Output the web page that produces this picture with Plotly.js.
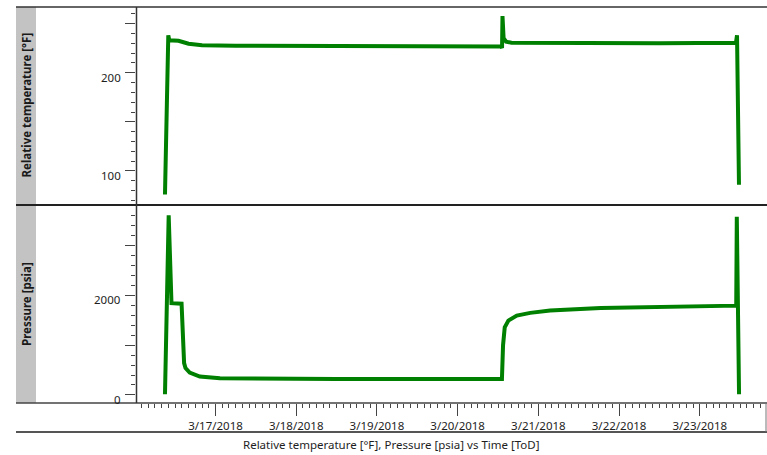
<!DOCTYPE html>
<html>
<head>
<meta charset="utf-8">
<script src="https://cdn.plot.ly/plotly-3.0.1.min.js"></script>
<style>
  html, body { margin: 0; padding: 0; background: #ffffff; }
  #chart { width: 767px; height: 455px; }
</style>
</head>
<body>
<div id="chart"></div>
<script>
// Relative temperature log (°F)
const tempTime = [
  '2018-03-16 08:59', '2018-03-16 09:58', '2018-03-16 10:15', '2018-03-16 13:00',
  '2018-03-16 16:00', '2018-03-16 20:00', '2018-03-17 06:00', '2018-03-18 12:00',
  '2018-03-19 12:00', '2018-03-20 13:00', '2018-03-20 13:12', '2018-03-20 13:20',
  '2018-03-20 13:40', '2018-03-20 14:25', '2018-03-20 16:00', '2018-03-21 12:00',
  '2018-03-22 12:00', '2018-03-23 10:45', '2018-03-23 11:04', '2018-03-23 11:39'
];
const tempValue = [
  76, 238, 233, 232.5,
  229.5, 228, 227.5, 227,
  226.5, 226.5, 225, 257.5,
  235, 231.5, 230.5, 230,
  230, 230.5, 238, 86
];

// Pressure log (psia)
const presTime = [
  '2018-03-16 08:59', '2018-03-16 10:05', '2018-03-16 10:55', '2018-03-16 13:55',
  '2018-03-16 14:40', '2018-03-16 15:05', '2018-03-16 16:20', '2018-03-16 19:20',
  '2018-03-17 01:20', '2018-03-17 12:00', '2018-03-18 12:00', '2018-03-19 12:00',
  '2018-03-20 13:10', '2018-03-20 13:30', '2018-03-20 14:00', '2018-03-20 15:05',
  '2018-03-20 17:35', '2018-03-20 21:35', '2018-03-21 03:30', '2018-03-21 18:30',
  '2018-03-23 00:00', '2018-03-23 10:50', '2018-03-23 11:00', '2018-03-23 11:40'
];
const presValue = [
  15, 3610, 1845, 1835,
  640, 540, 450, 370,
  335, 325, 322, 320,
  318, 1000, 1360, 1495,
  1596, 1650, 1697, 1747,
  1778, 1795, 3582, 13
];

// Axis ticks and their labels
const tempTickVals = [100, 150, 200, 250];
const tempLabelVals = [100, 200];
const tempLabelText = ['100', '200'];
const presTickVals = [0, 1000, 2000, 3000];
const presLabelVals = [0, 2000];
const presLabelText = ['0', '2000'];

const lineGreen = '#008000';
const tickFont = { family: 'Noto Sans, sans-serif', size: 11.5, color: '#1e1e1e' };

// plot area in pixels: left 136, right 766, top 7, bottom 403
const L = 136, R = 766, T = 7, B = 403;
const px = x => (x - L) / (R - L);
const py = y => (B - y) / (B - T);

const traces = [
  {
    x: tempTime, y: tempValue, xaxis: 'x', yaxis: 'y',
    type: 'scatter', mode: 'lines',
    line: { color: lineGreen, width: 4 },
    hoverinfo: 'x+y', showlegend: false
  },
  {
    x: presTime, y: presValue, xaxis: 'x', yaxis: 'y2',
    type: 'scatter', mode: 'lines',
    line: { color: lineGreen, width: 4 },
    hoverinfo: 'x+y', showlegend: false
  }
];

const yCommon = {
  ticks: 'outside', ticklen: 10, tickwidth: 1, tickcolor: '#444',
  showgrid: false, zeroline: false, showline: false,
  showticklabels: false,
  minor: { ticks: 'outside', ticklen: 4, tickwidth: 1, tickcolor: '#444', showgrid: false },
  fixedrange: true
};

// value labels sit just below their tick marks, right-aligned next to the ticks
function axisLabels(vals, texts, yref) {
  return vals.map((v, i) => ({
    xref: 'paper', yref: yref, x: px(123), y: v, text: texts[i],
    showarrow: false, xanchor: 'right', yanchor: 'middle', yshift: -4.5,
    font: tickFont
  }));
}

const layout = {
  width: 767, height: 455,
  margin: { l: L, r: 767 - R, t: T, b: 455 - B },
  paper_bgcolor: '#ffffff', plot_bgcolor: '#ffffff',
  showlegend: false,
  xaxis: {
    type: 'date', anchor: 'y2',
    range: ['2018-03-16 00:22', '2018-03-23 19:41'],
    tick0: '2018-03-17', dtick: 86400000,
    tickformat: '%-m/%-d/%Y',
    ticks: 'outside', ticklen: 12, tickwidth: 1, tickcolor: '#444',
    tickfont: tickFont,
    minor: { dtick: 7200000, ticks: 'outside', ticklen: 4, tickwidth: 1, tickcolor: '#444', showgrid: false },
    showgrid: false, zeroline: false, showline: false,
    fixedrange: true
  },
  yaxis: Object.assign({}, yCommon, {
    domain: [0.5, 1], anchor: 'x', range: [65.4, 266.8],
    tickmode: 'array', tickvals: tempTickVals,
    minor: Object.assign({}, yCommon.minor, { dtick: 10, tick0: 0 })
  }),
  yaxis2: Object.assign({}, yCommon, {
    domain: [0, 0.5], anchor: 'x', range: [-162, 3818],
    tickmode: 'array', tickvals: presTickVals,
    minor: Object.assign({}, yCommon.minor, { dtick: 200, tick0: 0 })
  }),
  shapes: [
    // grey label band
    { type: 'rect', xref: 'paper', yref: 'paper', x0: px(16), x1: px(36), y0: py(403), y1: py(7),
      fillcolor: '#c3c3c3', line: { width: 0 }, layer: 'below' },
    // top frame line
    { type: 'line', xref: 'paper', yref: 'paper', x0: px(16), x1: px(767), y0: py(7), y1: py(7),
      line: { color: '#333', width: 1.5 } },
    // separator between panels
    { type: 'line', xref: 'paper', yref: 'paper', x0: px(16), x1: px(767), y0: py(205), y1: py(205),
      line: { color: '#222', width: 2 } },
    // bottom axis line
    { type: 'line', xref: 'paper', yref: 'paper', x0: px(16), x1: px(767), y0: py(403), y1: py(403),
      line: { color: '#444', width: 1.5 } },
    // left axis line
    { type: 'line', xref: 'paper', yref: 'paper', x0: px(136.5), x1: px(136.5), y0: py(403), y1: py(7),
      line: { color: '#333', width: 1.5 } },
    // lower frame line
    { type: 'line', xref: 'paper', yref: 'paper', x0: px(16), x1: px(767), y0: py(432), y1: py(432),
      line: { color: '#555', width: 2 } },
    // right edge of tick strip
    { type: 'line', xref: 'paper', yref: 'paper', x0: px(766), x1: px(766), y0: py(403), y1: py(432),
      line: { color: '#777', width: 1 } }
  ],
  annotations: [
    { xref: 'paper', yref: 'paper', x: px(26), y: py(105.5), text: 'Relative temperature [°F]',
      textangle: -90, showarrow: false, xanchor: 'center', yanchor: 'middle',
      font: { family: 'Noto Sans, sans-serif', size: 11.5, color: '#1a1a1a', weight: 'bold' } },
    { xref: 'paper', yref: 'paper', x: px(26), y: py(304), text: 'Pressure [psia]',
      textangle: -90, showarrow: false, xanchor: 'center', yanchor: 'middle',
      font: { family: 'Noto Sans, sans-serif', size: 11.5, color: '#1a1a1a', weight: 'bold' } },
    { xref: 'paper', yref: 'paper', x: px(391), y: py(445), text: 'Relative temperature [°F], Pressure [psia] vs Time [ToD]',
      showarrow: false, xanchor: 'center', yanchor: 'middle',
      font: { family: 'Noto Sans, sans-serif', size: 11.5, color: '#1e1e1e' } }
  ].concat(axisLabels(tempLabelVals, tempLabelText, 'y'), axisLabels(presLabelVals, presLabelText, 'y2'))
};

Plotly.newPlot('chart', traces, layout, { displayModeBar: false, staticPlot: true });
</script>
</body>
</html>
